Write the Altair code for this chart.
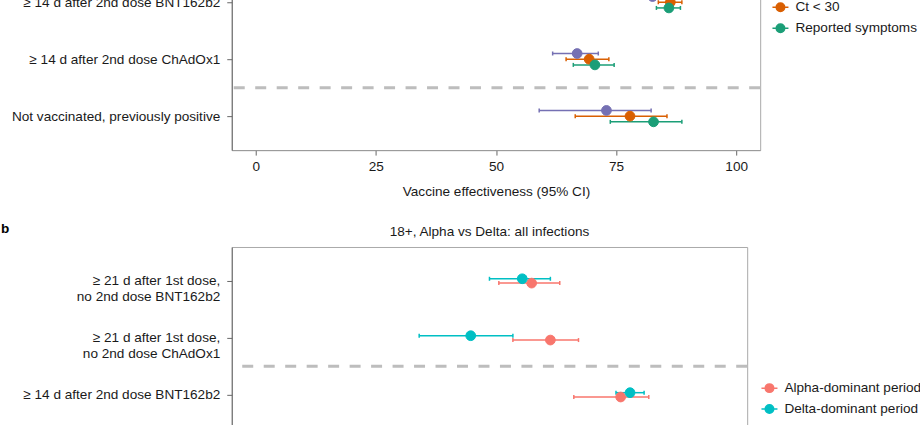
import json
import altair as alt
import pandas as pd

FONT = "Liberation Sans"
FS = 13.6

# ---------------- panel a (top, partly cropped) ----------------
rows_a = [
    ["≥ 14 d after 2nd dose BNT162b2"],
    ["≥ 14 d after 2nd dose ChAdOx1"],
    ["Not vaccinated, previously positive"],
]
series_a = ["All positives", "Ct < 30", "Reported symptoms"]
colors_a = ["#7570B3", "#D95F02", "#1B9E77"]
est_all = [82.6, 66.9, 73.0]
lo_all = [80.0, 61.8, 59.0]
hi_all = [85.0, 71.3, 82.3]
est_ct = [86.3, 69.4, 77.9]
lo_ct = [83.8, 64.6, 66.5]
hi_ct = [88.7, 73.5, 85.6]
est_sym = [86.0, 70.6, 82.8]
lo_sym = [83.4, 66.1, 73.8]
hi_sym = [88.4, 74.6, 88.7]

# ---------------- panel b (bottom, partly cropped) ----------------
rows_b = [
    ["≥ 21 d after 1st dose,", "no 2nd dose BNT162b2"],
    ["≥ 21 d after 1st dose,", "no 2nd dose ChAdOx1"],
    ["≥ 14 d after 2nd dose BNT162b2"],
]
series_b = ["Alpha-dominant period", "Delta-dominant period"]
colors_b = ["#F8766D", "#00BFC4"]
est_alpha = [59, 63, 78]
lo_alpha = [52, 55, 68]
hi_alpha = [65, 69, 84]
est_delta = [57, 46, 80]
lo_delta = [50, 35, 77]
hi_delta = [63, 55, 83]

title_b = "18+, Alpha vs Delta: all infections"
x_title = "Vaccine effectiveness (95% CI)"
x_ticks = [0, 25, 50, 75, 100]
panel_tag = ["b"]


def build_df(series, ests, los, his, stack_order, step):
    recs = []
    n = len(stack_order)
    for s, e, l, h in zip(series, ests, los, his):
        k = stack_order.index(s)
        off = (k - (n - 1) / 2) * step
        for r in range(len(e)):
            recs.append({"series": s, "row": r, "y": r + off, "est": e[r], "lo": l[r], "hi": h[r]})
    return pd.DataFrame(recs)


df_a = build_df(series_a, [est_all, est_ct, est_sym], [lo_all, lo_ct, lo_sym],
                [hi_all, hi_ct, hi_sym], series_a, 0.1)
df_b = build_df(series_b, [est_alpha, est_delta], [lo_alpha, lo_delta],
                [hi_alpha, hi_delta], [series_b[1], series_b[0]], 0.076)

SYM = "M-1,0L1,0M-0.53,0A0.53,0.53,0,1,0,0.53,0A0.53,0.53,0,1,0,-0.53,0Z"


def panel(df, series, colors, rows, lx, ly):
    yscale = alt.Scale(domain=[-0.596, 2.596], reverse=True, nice=False, zero=False)
    xscale = alt.Scale(domain=[-5, 105], nice=False, zero=False)
    cscale = alt.Scale(domain=series, range=colors)
    yaxis = alt.Axis(values=[0, 1, 2], title=None,
                     labelExpr=json.dumps(rows, ensure_ascii=False) + "[datum.value]",
                     labelPadding=7, tickSize=5, labelLineHeight=15.6, labelLimit=0,
                     domainColor="#666666", tickColor="#666666")
    xaxis = alt.Axis(values=x_ticks, title=x_title, labelPadding=4, tickSize=5,
                     titlePadding=12, domainColor="#999999", tickColor="#666666")
    leg = alt.Legend(title=None, orient="none", legendX=lx, legendY=ly,
                     symbolType=SYM, symbolSize=256, symbolStrokeWidth=1.5,
                     labelFontSize=FS, labelFont=FONT, labelColor="#1a1a1a",
                     rowPadding=3.9, labelOffset=6, padding=0, labelLimit=0)
    base = alt.Chart(df)
    sep = base.mark_rule(color="#BDBDBD", strokeWidth=3, strokeDash=[11, 10.5]).encode(
        y=alt.Y(datum=1.5, scale=yscale, axis=yaxis)
    ).transform_filter("datum.row == 0 && datum.series == '" + series[0] + "'")
    bars = base.mark_rule(strokeWidth=1.5).encode(
        x=alt.X("lo:Q", scale=xscale, axis=xaxis),
        x2="hi:Q",
        y=alt.Y("y:Q", scale=yscale, axis=yaxis),
        stroke=alt.Stroke("series:N", scale=cscale, legend=leg),
    )
    caps = base.transform_fold(["lo", "hi"], as_=["end", "xv"]).mark_tick(
        orient="vertical", thickness=1.5, size=4, opacity=1
    ).encode(
        x=alt.X("xv:Q", scale=xscale, axis=xaxis),
        y=alt.Y("y:Q", scale=yscale, axis=yaxis),
        fill=alt.Fill("series:N", scale=cscale, legend=leg),
    )
    pts = base.mark_point(filled=True, size=95, strokeWidth=1, opacity=1).encode(
        x=alt.X("est:Q", scale=xscale, axis=xaxis),
        y=alt.Y("y:Q", scale=yscale, axis=yaxis),
        fill=alt.Fill("series:N", scale=cscale, legend=leg),
        stroke=alt.Stroke("series:N", scale=cscale, legend=leg),
    )
    return [sep, bars, caps, pts]


top = alt.layer(*panel(df_a, series_a, colors_a, rows_a, 540.3, 9.15)).properties(width=529, height=182)

tag = alt.Chart(pd.DataFrame({"t": panel_tag})).mark_text(
    fontWeight="bold", fontSize=FS, align="left", baseline="middle", font=FONT, color="#000000"
).encode(text="t:N", x=alt.value(-231), y=alt.value(-18))
bottom = alt.layer(*panel(df_b, series_b, colors_b, rows_b, 529.3, 132.3), tag).properties(
    width=516, height=182,
    title=alt.TitleParams(title_b, fontSize=FS, fontWeight="normal", font=FONT,
                          color="#1a1a1a", anchor="middle", offset=-17, frame="group"),
)

chart = alt.vconcat(top, bottom, spacing=22, padding={"top": -33, "left": 0, "right": -2, "bottom": 0}).resolve_scale(
    x="independent", y="independent", fill="independent", stroke="independent"
).configure(font=FONT).configure_view(stroke="#AAAAAA", strokeWidth=1).configure_axis(
    labelFont=FONT, labelFontSize=FS, labelColor="#1a1a1a", titleFont=FONT,
    titleFontSize=FS, titleFontWeight="normal", titleColor="#1a1a1a", grid=False
)

chart.save("out.html", embed_options={"renderer": "svg", "actions": False})
